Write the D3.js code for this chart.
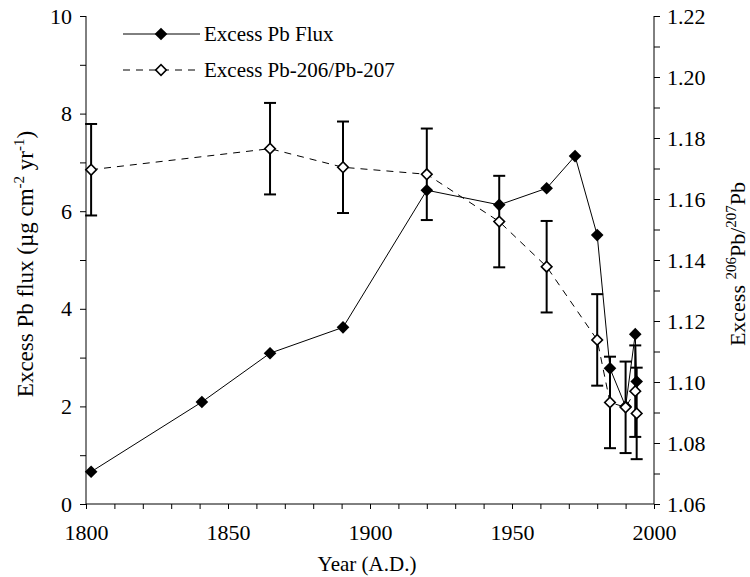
<!DOCTYPE html>
<html>
<head>
<meta charset="utf-8">
<script src="https://cdn.jsdelivr.net/npm/d3@7"></script>
</head>
<body style="margin:0;background:#fff">
<div id="chart"></div>
<script>
'use strict';

// flux series (filled diamonds, solid line)
var fluxYears = [1801.8, 1840.8, 1864.8, 1890.5, 1920, 1945.5, 1962.2, 1972.2, 1980, 1984.5, 1990, 1993.4, 1993.9];
var fluxValues = [0.66, 2.09, 3.09, 3.62, 6.43, 6.13, 6.47, 7.13, 5.51, 2.78, 2.0, 3.48, 2.51];

// ratio series (open diamonds, dashed line, error bars)
var ratioYears = [1801.8, 1864.8, 1890.5, 1920, 1945.5, 1962.2, 1980, 1984.5, 1990, 1993.4, 1993.9];
var ratioValues = [1.1696, 1.1765, 1.1704, 1.1681, 1.1526, 1.1378, 1.1138, 1.0933, 1.0917, 1.0970, 1.0897];
var ratioErrors = [0.015, 0.015, 0.015, 0.015, 0.015, 0.015, 0.015, 0.015, 0.015, 0.015, 0.015];

var xTicks = d3.range(1800, 2001, 10);
var leftTicks = d3.range(0, 11, 1);
var rightTicks = d3.range(106, 123, 1).map(function(d) { return d / 100; });

var seriesNames = ['Excess Pb Flux', 'Excess Pb-206/Pb-207'];

var width = 750, height = 577;
var margin = {top: 16, right: 96, bottom: 73, left: 86};
var serif = '"Liberation Serif"';

var svg = d3.select('#chart').append('svg')
    .attr('width', width)
    .attr('height', height);

var x = d3.scaleLinear().domain([1800, 2000]).range([margin.left, width - margin.right]);
var yLeft = d3.scaleLinear().domain([0, 10]).range([height - margin.bottom, margin.top]);
var yRight = d3.scaleLinear().domain([1.06, 1.22]).range([height - margin.bottom, margin.top]);

var flux = fluxYears.map(function(yr, i) { return {year: yr, value: fluxValues[i]}; });
var ratio = ratioYears.map(function(yr, i) { return {year: yr, value: ratioValues[i], err: ratioErrors[i]}; });

// axes
svg.append('g').attr('class', 'axis')
    .attr('transform', 'translate(0,' + (height - margin.bottom) + ')')
    .call(d3.axisBottom(x).tickValues(xTicks).tickSize(5).tickPadding(15)
        .tickFormat(function(d) { return d % 50 === 0 ? d : ''; }));

svg.append('g').attr('class', 'axis')
    .attr('transform', 'translate(' + margin.left + ',0)')
    .call(d3.axisLeft(yLeft).tickValues(leftTicks).tickSize(6).tickPadding(8)
        .tickFormat(function(d) { return d % 2 === 0 ? d : ''; }));

svg.append('g').attr('class', 'axis')
    .attr('transform', 'translate(' + (width - margin.right) + ',0)')
    .call(d3.axisRight(yRight).tickValues(rightTicks).tickSize(6).tickPadding(7)
        .tickFormat(function(d, i) { return i % 2 === 0 ? d3.format('.2f')(d) : ''; }));

svg.selectAll('.axis .domain').remove();
svg.selectAll('.axis line').attr('stroke', '#000');
svg.selectAll('.axis text')
    .style('font-family', serif)
    .style('font-size', '22px')
    .attr('fill', '#000');

// plain axis lines
svg.append('line').attr('x1', x(1800)).attr('x2', x(2000)).attr('y1', yLeft(0)).attr('y2', yLeft(0)).attr('stroke', '#000');
svg.append('line').attr('x1', x(1800)).attr('x2', x(1800)).attr('y1', yLeft(0)).attr('y2', yLeft(10)).attr('stroke', '#000');
svg.append('line').attr('x1', x(2000)).attr('x2', x(2000)).attr('y1', yLeft(0)).attr('y2', yLeft(10)).attr('stroke', '#000');

// axis titles
svg.append('text')
    .attr('x', 367).attr('y', 571)
    .attr('text-anchor', 'middle')
    .style('font-family', serif)
    .style('font-size', '21px')
    .text('Year (A.D.)');

var leftTitle = svg.append('text')
    .attr('transform', 'translate(33,264) rotate(-90)')
    .attr('text-anchor', 'middle')
    .style('font-family', serif)
    .style('font-size', '23px');
leftTitle.append('tspan').text('Excess Pb flux (\u00b5g cm');
leftTitle.append('tspan').attr('dy', -9).style('font-size', '15px').text('-2');
leftTitle.append('tspan').attr('dy', 9).text(' yr');
leftTitle.append('tspan').attr('dy', -9).style('font-size', '15px').text('-1');
leftTitle.append('tspan').attr('dy', 9).text(')');

var rightTitle = svg.append('text')
    .attr('transform', 'translate(745,264) rotate(-90)')
    .attr('text-anchor', 'middle')
    .style('font-family', serif)
    .style('font-size', '22px');
rightTitle.append('tspan').text('Excess ');
rightTitle.append('tspan').attr('dy', -9).style('font-size', '15px').text('206');
rightTitle.append('tspan').attr('dy', 9).text('Pb/');
rightTitle.append('tspan').attr('dy', -9).style('font-size', '15px').text('207');
rightTitle.append('tspan').attr('dy', 9).text('Pb');

// lines
var fluxLine = d3.line()
    .x(function(d) { return x(d.year); })
    .y(function(d) { return yLeft(d.value); });
var ratioLine = d3.line()
    .x(function(d) { return x(d.year); })
    .y(function(d) { return yRight(d.value); });

svg.append('path').datum(ratio)
    .attr('d', ratioLine)
    .attr('fill', 'none').attr('stroke', '#000').attr('stroke-width', 1)
    .attr('stroke-dasharray', '7,6');

svg.append('path').datum(flux)
    .attr('d', fluxLine)
    .attr('fill', 'none').attr('stroke', '#000').attr('stroke-width', 1);

var filledDiamond = d3.symbol().type(d3.symbolSquare).size(80);
var openDiamond = d3.symbol().type(d3.symbolSquare).size(56);

// flux markers
svg.selectAll('path.flux')
    .data(flux)
    .enter().append('path')
    .attr('class', 'flux')
    .attr('d', filledDiamond)
    .attr('transform', function(d) { return 'translate(' + x(d.year) + ',' + yLeft(d.value) + ') rotate(45)'; })
    .attr('fill', '#000');

// error bars
var bars = svg.selectAll('g.err')
    .data(ratio)
    .enter().append('g')
    .attr('class', 'err')
    .attr('stroke', '#000')
    .attr('stroke-width', 2);
bars.append('line')
    .attr('x1', function(d) { return x(d.year); })
    .attr('x2', function(d) { return x(d.year); })
    .attr('y1', function(d) { return yRight(d.value - d.err); })
    .attr('y2', function(d) { return yRight(d.value + d.err); });
bars.append('line')
    .attr('x1', function(d) { return x(d.year) - 6; })
    .attr('x2', function(d) { return x(d.year) + 6; })
    .attr('y1', function(d) { return yRight(d.value + d.err); })
    .attr('y2', function(d) { return yRight(d.value + d.err); });
bars.append('line')
    .attr('x1', function(d) { return x(d.year) - 6; })
    .attr('x2', function(d) { return x(d.year) + 6; })
    .attr('y1', function(d) { return yRight(d.value - d.err); })
    .attr('y2', function(d) { return yRight(d.value - d.err); });

// ratio markers
svg.selectAll('path.ratio')
    .data(ratio)
    .enter().append('path')
    .attr('class', 'ratio')
    .attr('d', openDiamond)
    .attr('transform', function(d) { return 'translate(' + x(d.year) + ',' + yRight(d.value) + ') rotate(45)'; })
    .attr('fill', '#fff')
    .attr('stroke', '#000')
    .attr('stroke-width', 1.6);

// legend
var legend = svg.append('g');
seriesNames.forEach(function(name, i) {
    var ly = 34 + i * 36;
    legend.append('line')
        .attr('x1', 123).attr('x2', 200).attr('y1', ly).attr('y2', ly)
        .attr('stroke', '#000').attr('stroke-width', 1)
        .attr('stroke-dasharray', i === 0 ? null : '7,6');
    legend.append('path')
        .attr('d', i === 0 ? filledDiamond() : openDiamond())
        .attr('transform', 'translate(161,' + ly + ') rotate(45)')
        .attr('fill', i === 0 ? '#000' : '#fff')
        .attr('stroke', i === 0 ? 'none' : '#000')
        .attr('stroke-width', 1.6);
    legend.append('text')
        .attr('x', 204).attr('y', ly + 7)
        .style('font-family', serif)
        .style('font-size', '21px')
        .text(name);
});
</script>
</body>
</html>
